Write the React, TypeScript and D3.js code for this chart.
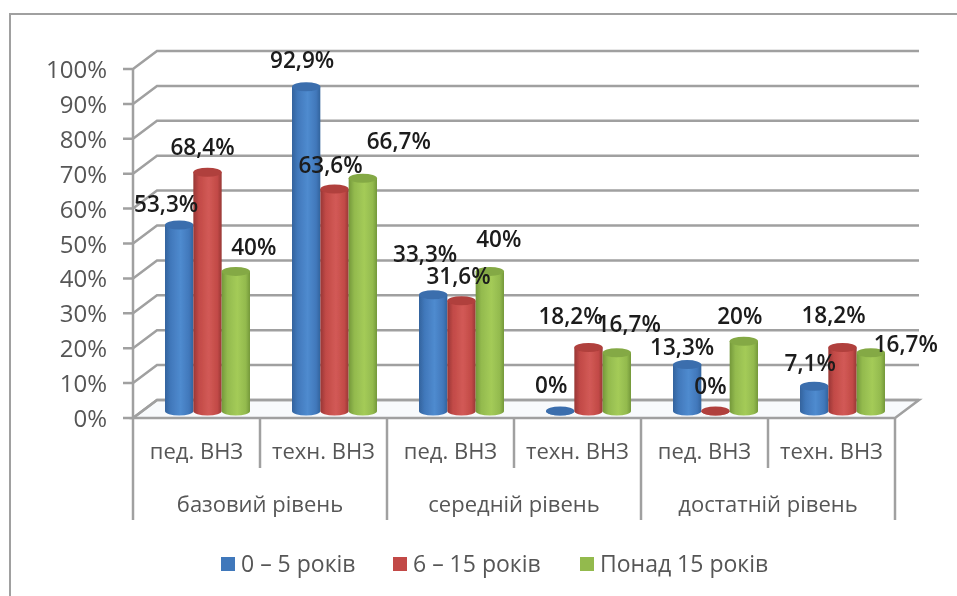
import React from "react";
import * as d3 from "d3";

const groups = ["базовий рівень", "середній рівень", "достатній рівень"];
const subCategories = ["пед. ВНЗ", "техн. ВНЗ", "пед. ВНЗ", "техн. ВНЗ", "пед. ВНЗ", "техн. ВНЗ"];
const seriesNames = ["0 – 5 років", "6 – 15 років", "Понад 15 років"];
const series0 = [53.3, 92.9, 33.3, 0, 13.3, 7.1];
const series1 = [68.4, 63.6, 31.6, 18.2, 0, 18.2];
const series2 = [40, 66.7, 40, 16.7, 20, 16.7];
const seriesValues = [series0, series1, series2];
const yTicks = [0, 10, 20, 30, 40, 50, 60, 70, 80, 90, 100];
const colors = ["#4178bb", "#c24a47", "#93ba4e"];
const darks = ["#33639d", "#983735", "#74983a"];
const lights = ["#4f8bcf", "#d25a56", "#a4cb58"];
const caps = ["#3a6ead", "#b03f3c", "#84a944"];
// label nudges relative to the bar top centre (manual placement in the source chart)
const labelNudge: [number, number][][] = [
  [[-13, -13], [-4, -19], [-8, -33], [-9, -18], [-5, -10], [-4, -15]],
  [[-5, -17], [-4, -16], [-3, -17], [-18, -23], [-5, -17], [-9, -24]],
  [[18, -16], [36, -29], [9, -24], [12, -21], [-4, -17], [35, -1]],
];

const W = 957, H = 596;
const frontLeft = 133, frontRight = 895, frontBottom = 418, frontTop = 69;
const depthX = 24, depthY = 18;
const baseY = 411;
const font = "'Open Sans', sans-serif";

const yFront = d3.scaleLinear().domain([0, 100]).range([frontBottom, frontTop]);
const yBar = d3.scaleLinear().domain([0, 100]).range([baseY, baseY - 349]);
const xBand = d3.scaleBand<number>().domain(d3.range(6)).range([frontLeft, frontRight]).padding(0);
const xGroup = d3.scaleBand<number>().domain(d3.range(3)).range([frontLeft, frontRight]).padding(0);
const seriesBand = d3.scaleBand<number>().domain([0, 1, 2]).range([0, 85]).padding(0);

const gridCol = "#a0a0a0";
const textCol = "#565656";

export default function App() {
  const w = seriesBand.bandwidth();
  const ry = 4.5;
  return (
    <svg width={W} height={H} style={{ position: "absolute", left: 0, top: 0, background: "#fff" }}>
      <defs>
        {colors.map((c, i) => (
          <linearGradient id={`cyl${i}`} key={i} x1="0" x2="1" y1="0" y2="0">
            <stop offset="0" stopColor={darks[i]} />
            <stop offset="0.2" stopColor={c} />
            <stop offset="0.55" stopColor={lights[i]} />
            <stop offset="0.85" stopColor={c} />
            <stop offset="1" stopColor={darks[i]} />
          </linearGradient>
        ))}
        <filter id="soft" x="-5%" y="-5%" width="110%" height="110%">
          <feGaussianBlur stdDeviation="0.75" />
        </filter>
      </defs>
      <g filter="url(#soft)">
        <path d="M10 596 V14 H957" fill="none" stroke="#a0a0a0" strokeWidth={2} />

        <polygon
          points={`${frontLeft},${frontBottom} ${frontLeft + depthX},${frontBottom - depthY} ${frontRight + depthX},${frontBottom - depthY} ${frontRight},${frontBottom}`}
          fill="#f8fafc"
          stroke={gridCol}
          strokeWidth={2.5}
        />
        {yTicks.map((t) => {
          const y = yFront(t);
          return (
            <g key={t}>
              <path
                d={`M${frontLeft - 10} ${y} H${frontLeft} L${frontLeft + depthX} ${y - depthY} H${frontRight + depthX}`}
                fill="none"
                stroke={gridCol}
                strokeWidth={2.5}
              />
              <text x={107} y={y + 9} textAnchor="end" fontFamily={font} fontSize={24} fill={textCol}>
                {t}%
              </text>
            </g>
          );
        })}
        <line x1={frontLeft} x2={frontLeft} y1={frontTop} y2={frontBottom} stroke={gridCol} strokeWidth={2.5} />

        {d3.range(7).map((i) => {
          const x = i < 6 ? xBand(i)! : frontRight;
          return (
            <line key={i} x1={x} x2={x} y1={frontBottom} y2={i % 2 === 0 ? 520 : 468} stroke={gridCol} strokeWidth={2.5} />
          );
        })}
        {subCategories.map((c, i) => (
          <text key={i} x={xBand(i)! + xBand.bandwidth() / 2} y={459} textAnchor="middle" fontFamily={font} fontSize={22} fill={textCol}>
            {c}
          </text>
        ))}
        {groups.map((g, i) => (
          <text key={i} x={xGroup(i)! + xGroup.bandwidth() / 2} y={512} textAnchor="middle" fontFamily={font} fontSize={22} fill={textCol}>
            {g}
          </text>
        ))}

        {subCategories.map((_, ci) => {
          const gx = xBand(ci)! + xBand.bandwidth() / 2 + 11 - 42.5;
          return (
            <g key={ci}>
              {seriesValues.map((vals, si) => {
                const x = gx + seriesBand(si)!;
                const top = yBar(vals[ci]);
                return (
                  <g key={si}>
                    <path
                      d={`M${x} ${top} V${baseY} A${w / 2} ${ry} 0 0 0 ${x + w} ${baseY} V${top} Z`}
                      fill={`url(#cyl${si})`}
                    />
                    <ellipse cx={x + w / 2} cy={top} rx={w / 2} ry={ry} fill={caps[si]} />
                  </g>
                );
              })}
            </g>
          );
        })}

        {subCategories.map((_, ci) => {
          const gx = xBand(ci)! + xBand.bandwidth() / 2 + 11 - 42.5;
          return seriesValues.map((vals, si) => {
            const [dx, dy] = labelNudge[si][ci];
            return (
              <text
                key={`${ci}-${si}`}
                x={gx + seriesBand(si)! + w / 2 + dx}
                y={yBar(vals[ci]) + dy}
                textAnchor="middle"
                fontFamily={font}
                fontSize={22.5}
                fontWeight={600}
                fill="#1a1a1a"
              >
                {String(vals[ci]).replace(".", ",")}%
              </text>
            );
          });
        })}

        {seriesNames.map((n, i) => {
          const lx = [221, 393, 580][i];
          return (
            <g key={i}>
              <rect x={lx} y={557} width={14} height={14} fill={colors[i]} />
              <text x={lx + 20} y={572} fontFamily={font} fontSize={23} fill={textCol}>
                {n}
              </text>
            </g>
          );
        })}
      </g>
    </svg>
  );
}
